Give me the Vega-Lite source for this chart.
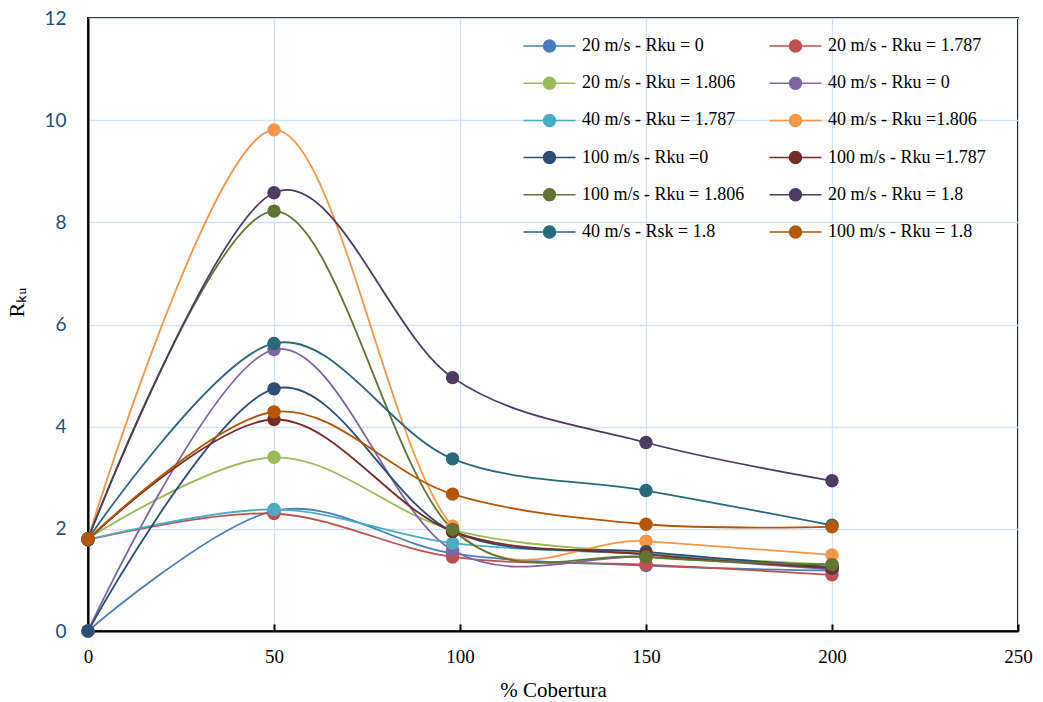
{
  "$schema": "https://vega.github.io/schema/vega-lite/v6.json",
  "width": 930,
  "height": 613,
  "autosize": "none",
  "padding": {"left": 88, "top": 18, "right": 25, "bottom": 71},
  "background": "white",
  "config": {"view": {"stroke": "#000", "strokeWidth": 2}},
  "data": {"values": [
    {"serie": "20 m/s - Rku = 0", "cobertura": 0, "rku": 0},
    {"serie": "20 m/s - Rku = 0", "cobertura": 50, "rku": 2.35},
    {"serie": "20 m/s - Rku = 0", "cobertura": 98, "rku": 1.52},
    {"serie": "20 m/s - Rku = 0", "cobertura": 150, "rku": 1.28},
    {"serie": "20 m/s - Rku = 0", "cobertura": 200, "rku": 1.18},
    {"serie": "20 m/s - Rku = 1.787", "cobertura": 0, "rku": 1.787},
    {"serie": "20 m/s - Rku = 1.787", "cobertura": 50, "rku": 2.3},
    {"serie": "20 m/s - Rku = 1.787", "cobertura": 98, "rku": 1.45},
    {"serie": "20 m/s - Rku = 1.787", "cobertura": 150, "rku": 1.3},
    {"serie": "20 m/s - Rku = 1.787", "cobertura": 200, "rku": 1.1},
    {"serie": "20 m/s - Rku = 1.806", "cobertura": 0, "rku": 1.806},
    {"serie": "20 m/s - Rku = 1.806", "cobertura": 50, "rku": 3.4},
    {"serie": "20 m/s - Rku = 1.806", "cobertura": 98, "rku": 1.98},
    {"serie": "20 m/s - Rku = 1.806", "cobertura": 150, "rku": 1.52},
    {"serie": "20 m/s - Rku = 1.806", "cobertura": 200, "rku": 1.3},
    {"serie": "40 m/s - Rku = 0", "cobertura": 0, "rku": 0},
    {"serie": "40 m/s - Rku = 0", "cobertura": 50, "rku": 5.51},
    {"serie": "40 m/s - Rku = 0", "cobertura": 98, "rku": 1.58},
    {"serie": "40 m/s - Rku = 0", "cobertura": 150, "rku": 1.45},
    {"serie": "40 m/s - Rku = 0", "cobertura": 200, "rku": 1.2},
    {"serie": "40 m/s - Rku = 1.787", "cobertura": 0, "rku": 1.787},
    {"serie": "40 m/s - Rku = 1.787", "cobertura": 50, "rku": 2.38},
    {"serie": "40 m/s - Rku = 1.787", "cobertura": 98, "rku": 1.72},
    {"serie": "40 m/s - Rku = 1.787", "cobertura": 150, "rku": 1.5},
    {"serie": "40 m/s - Rku = 1.787", "cobertura": 200, "rku": 1.25},
    {"serie": "40 m/s - Rku =1.806", "cobertura": 0, "rku": 1.806},
    {"serie": "40 m/s - Rku =1.806", "cobertura": 50, "rku": 9.81},
    {"serie": "40 m/s - Rku =1.806", "cobertura": 98, "rku": 2.05},
    {"serie": "40 m/s - Rku =1.806", "cobertura": 150, "rku": 1.76},
    {"serie": "40 m/s - Rku =1.806", "cobertura": 200, "rku": 1.49},
    {"serie": "100 m/s - Rku =0", "cobertura": 0, "rku": 0},
    {"serie": "100 m/s - Rku =0", "cobertura": 50, "rku": 4.74},
    {"serie": "100 m/s - Rku =0", "cobertura": 98, "rku": 1.95},
    {"serie": "100 m/s - Rku =0", "cobertura": 150, "rku": 1.55},
    {"serie": "100 m/s - Rku =0", "cobertura": 200, "rku": 1.25},
    {"serie": "100 m/s - Rku =1.787", "cobertura": 0, "rku": 1.787},
    {"serie": "100 m/s - Rku =1.787", "cobertura": 50, "rku": 4.14},
    {"serie": "100 m/s - Rku =1.787", "cobertura": 98, "rku": 1.95},
    {"serie": "100 m/s - Rku =1.787", "cobertura": 150, "rku": 1.5},
    {"serie": "100 m/s - Rku =1.787", "cobertura": 200, "rku": 1.23},
    {"serie": "100 m/s - Rku = 1.806", "cobertura": 0, "rku": 1.806},
    {"serie": "100 m/s - Rku = 1.806", "cobertura": 50, "rku": 8.22},
    {"serie": "100 m/s - Rku = 1.806", "cobertura": 98, "rku": 1.99},
    {"serie": "100 m/s - Rku = 1.806", "cobertura": 150, "rku": 1.45},
    {"serie": "100 m/s - Rku = 1.806", "cobertura": 200, "rku": 1.3},
    {"serie": "20 m/s - Rku = 1.8", "cobertura": 0, "rku": 1.8},
    {"serie": "20 m/s - Rku = 1.8", "cobertura": 50, "rku": 8.58},
    {"serie": "20 m/s - Rku = 1.8", "cobertura": 98, "rku": 4.96},
    {"serie": "20 m/s - Rku = 1.8", "cobertura": 150, "rku": 3.69},
    {"serie": "20 m/s - Rku = 1.8", "cobertura": 200, "rku": 2.94},
    {"serie": "40 m/s - Rsk = 1.8", "cobertura": 0, "rku": 1.8},
    {"serie": "40 m/s - Rsk = 1.8", "cobertura": 50, "rku": 5.63},
    {"serie": "40 m/s - Rsk = 1.8", "cobertura": 98, "rku": 3.37},
    {"serie": "40 m/s - Rsk = 1.8", "cobertura": 150, "rku": 2.75},
    {"serie": "40 m/s - Rsk = 1.8", "cobertura": 200, "rku": 2.07},
    {"serie": "100 m/s - Rku = 1.8", "cobertura": 0, "rku": 1.8},
    {"serie": "100 m/s - Rku = 1.8", "cobertura": 50, "rku": 4.29},
    {"serie": "100 m/s - Rku = 1.8", "cobertura": 98, "rku": 2.68},
    {"serie": "100 m/s - Rku = 1.8", "cobertura": 150, "rku": 2.09},
    {"serie": "100 m/s - Rku = 1.8", "cobertura": 200, "rku": 2.04}
  ]},
  "encoding": {
    "x": {
      "field": "cobertura", "type": "quantitative",
      "scale": {"domain": [0, 250], "nice": false, "zero": false},
      "axis": {
        "values": [0, 50, 100, 150, 200, 250],
        "title": "% Cobertura",
        "titleFont": "Liberation Serif", "titleFontSize": 21, "titleFontWeight": "normal", "titleColor": "#000", "titlePadding": 13,
        "labelFont": "Liberation Serif", "labelFontSize": 19, "labelColor": "#000", "labelPadding": 23, "labelFlush": false,
        "tickSize": -7, "tickColor": "#000", "tickWidth": 2,
        "domainColor": "#000", "domainWidth": 2,
        "gridColor": "#D5E2F2", "gridWidth": 1.3
      }
    },
    "y": {
      "field": "rku", "type": "quantitative",
      "scale": {"domain": [0, 12], "nice": false},
      "axis": {
        "values": [0, 2, 4, 6, 8, 10, 12],
        "title": "Rₖᵤ",
        "titleFont": "Liberation Serif", "titleFontSize": 22, "titleFontWeight": "normal", "titleColor": "#000",
        "titleX": -72, "titleY": 284, "titleAngle": -90, "titleAlign": "center", "titleBaseline": "middle",
        "labelFont": "Lato", "labelFontSize": 19, "labelColor": "#1F4E79", "labelPadding": 22,
        "ticks": false,
        "domainColor": "#000", "domainWidth": 2,
        "gridColor": "#D5E2F2", "gridWidth": 1.3
      }
    },
    "color": {
      "field": "serie", "type": "nominal",
      "scale": {
        "domain": ["20 m/s - Rku = 0", "20 m/s - Rku = 1.787", "20 m/s - Rku = 1.806", "40 m/s - Rku = 0", "40 m/s - Rku = 1.787", "40 m/s - Rku =1.806", "100 m/s - Rku =0", "100 m/s - Rku =1.787", "100 m/s - Rku = 1.806", "20 m/s - Rku = 1.8", "40 m/s - Rsk = 1.8", "100 m/s - Rku = 1.8"],
        "range": ["#4A7EBB", "#C0504D", "#9BBB59", "#8064A2", "#4BACC6", "#F79646", "#2C4D75", "#772C2A", "#5F7530", "#4D3B62", "#276A7C", "#B65708"]
      },
      "legend": {
        "orient": "none", "legendX": 452.5, "legendY": 19, "direction": "horizontal",
        "columns": 2, "columnPadding": 22, "rowPadding": 19.2, "padding": 0,
        "title": null,
        "symbolType": "M-4,0L4,0M0.92,0A0.92,0.92,0,1,1,-0.92,0A0.92,0.92,0,1,1,0.92,0Z",
        "symbolSize": 169, "symbolStrokeWidth": 1.5, "symbolOpacity": 1,
        "labelFont": "Liberation Serif", "labelFontSize": 18, "labelColor": "#000", "labelOffset": 23.5, "labelLimit": 300,
        "encode": {"symbols": {"update": {
          "fill": {"scale": "color", "field": "value"},
          "stroke": {"scale": "color", "field": "value"},
          "opacity": {"value": 1}
        }}}
      }
    }
  },
  "layer": [
    {"mark": {"type": "line", "interpolate": "cardinal", "strokeWidth": 1.8}},
    {"mark": {"type": "point", "shape": "circle", "filled": true, "size": 180, "opacity": 1}}
  ]
}
